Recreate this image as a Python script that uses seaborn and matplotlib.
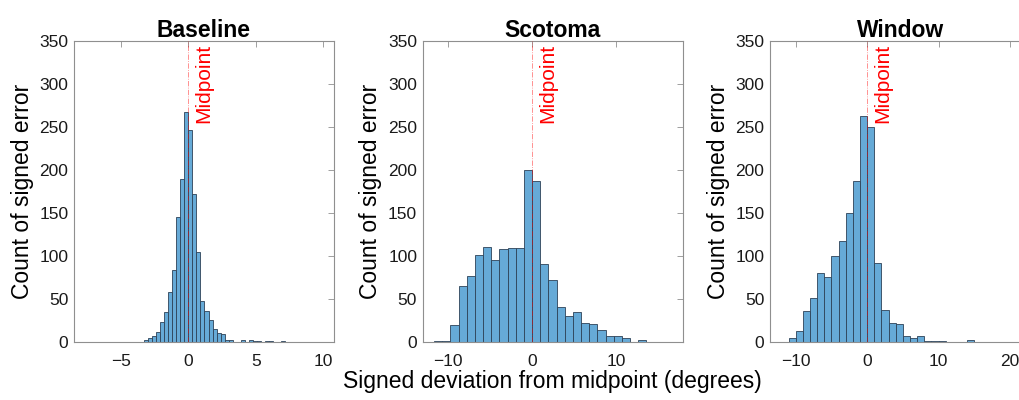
import numpy as np
import pandas as pd
import matplotlib.pyplot as plt
import seaborn as sns

sns.set_style("white")
plt.rcParams['font.family'] = ['Liberation Sans', 'DejaVu Sans']

titles = ['Baseline', 'Scotoma', 'Window']

# Baseline: 0.3 deg bins starting at -7.5
base_start, base_width = -7.5, 0.3
base_counts = [1, 0, 0, 0, 0, 0, 0, 0, 0, 0, 1, 1, 1, 0, 3, 5, 7, 12, 24, 35,
               58, 84, 146, 190, 268, 247, 172, 105, 48, 37, 26, 16, 11, 10, 3, 3, 0, 0, 3, 0,
               3, 2, 2, 0, 2, 2, 1, 0, 2, 0, 0, 0, 0, 0, 0, 0, 1, 1, 0]

# Scotoma: ~0.97 deg bins, first bin index -12
scot_start, scot_width = -12, 0.97
scot_counts = [2, 2, 20, 66, 77, 101, 111, 96, 109, 110, 110, 200, 188, 91, 73, 41,
               31, 35, 22, 21, 14, 8, 7, 5, 0, 3, 0, 1, 1]

# Window: 1 deg bins starting at -12
wind_start, wind_width = -12, 1.0
wind_counts = [1, 5, 13, 37, 52, 81, 76, 100, 118, 150, 187, 263, 250, 92, 38, 23,
               21, 8, 5, 8, 2, 2, 2, 0, 0, 0, 3, 0, 0, 0, 1, 1]

yticks = [0, 50, 100, 150, 200, 250, 300, 350]
xticks = [[-5, 0, 5, 10], [-10, 0, 10], [-10, 0, 10, 20]]
xlims = [(-8.47, 10.8), (-13.0, 17.9), (-13.6, 22.8)]

panels = [
    (base_start, base_width, base_counts),
    (scot_start * scot_width, scot_width, scot_counts),
    (wind_start * wind_width, wind_width, wind_counts),
]

fig = plt.figure(figsize=(10.2, 4), dpi=100)
lefts = [0.0725, 0.4144, 0.7549]
gray = '#8f8f8f'

for i, (start, width, counts) in enumerate(panels):
    ax = fig.add_axes([lefts[i], 0.144, 0.255, 0.753])
    edges = [start + width * k for k in range(len(counts) + 1)]
    df = pd.DataFrame({'center': [e + width / 2 for e in edges[:-1]], 'count': counts})
    sns.histplot(data=df, x='center', weights='count', bins=edges, ax=ax,
                 color='#66AAD7', alpha=1, edgecolor='#2d4257', linewidth=0.6)
    ax.axvline(0, color='red', linestyle='-.', linewidth=0.6, alpha=0.5, zorder=5)
    ax.annotate('Midpoint', xy=(0, 350), xycoords='data', xytext=(4.5, -2),
                textcoords='offset points', rotation=90, ha='left', va='top',
                color='red', fontsize=15)
    ax.set_xlim(*xlims[i])
    ax.set_ylim(0, 350)
    ax.set_xticks(xticks[i])
    ax.set_yticks(yticks)
    ax.tick_params(direction='in', top=True, right=True, length=4, width=0.6,
                   color=gray, labelcolor='#1a1a1a', labelsize=12.5)
    ax.tick_params(axis='x', pad=8)
    ax.tick_params(axis='y', pad=4)
    for s in ax.spines.values():
        s.set_color(gray)
        s.set_linewidth(0.8)
    ax.set_title(titles[i], fontsize=16.5, fontweight='bold', pad=3, color='black')
    ax.set_ylabel('Count of signed error', fontsize=16.5, color='black', labelpad=4)
    if i == 1:
        ax.set_xlabel('Signed deviation from midpoint (degrees)', fontsize=16.5,
                      color='black', labelpad=1)
    else:
        ax.set_xlabel('')

fig.savefig('out.png', dpi=100)
